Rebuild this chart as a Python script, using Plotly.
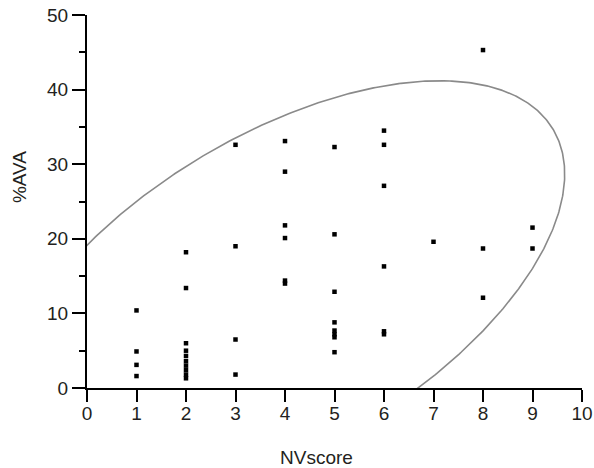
import numpy as np
import plotly.graph_objects as go

# Data
nv_score = [1, 1, 1, 1,
            2, 2, 2, 2, 2, 2, 2, 2, 2, 2,
            3, 3, 3, 3,
            4, 4, 4, 4, 4, 4,
            5, 5, 5, 5, 5, 5, 5, 5,
            6, 6, 6, 6, 6, 6,
            7,
            8, 8, 8,
            9, 9]
ava_pct = [10.4, 4.9, 3.1, 1.6,
           18.2, 13.4, 6.0, 5.0, 4.3, 3.6, 3.0, 2.4, 1.8, 1.3,
           32.6, 19.0, 6.5, 1.8,
           33.1, 29.0, 21.8, 20.1, 14.4, 14.0,
           32.3, 20.6, 12.9, 8.8, 7.7, 7.2, 6.8, 4.8,
           34.5, 32.6, 27.1, 16.3, 7.6, 7.2,
           19.6,
           45.3, 18.7, 12.1,
           21.5, 18.7]

x_ticks = list(range(0, 11))
y_ticks = [0, 10, 20, 30, 40, 50]

# Confidence ellipse parameters (data units)
ell_cx, ell_cy = 3.933, 12.955
ell_a, ell_b = 28.41, 4.718
ell_angle = np.deg2rad(83.38)

t = np.linspace(0, 2 * np.pi, 720)
ex = ell_cx + ell_a * np.cos(t) * np.cos(ell_angle) - ell_b * np.sin(t) * np.sin(ell_angle)
ey = ell_cy + ell_a * np.cos(t) * np.sin(ell_angle) + ell_b * np.sin(t) * np.cos(ell_angle)

font = "Liberation Sans, Arial, sans-serif"
txt = "#231f20"
fs = 19

fig = go.Figure()
fig.add_trace(go.Scatter(x=ex, y=ey, mode="lines",
                         line=dict(color="#8a8a8a", width=1.6),
                         hoverinfo="skip", showlegend=False))
fig.add_trace(go.Scatter(x=nv_score, y=ava_pct, mode="markers",
                         marker=dict(symbol="square", size=4.5, color="black",
                                     line=dict(width=0)),
                         showlegend=False, cliponaxis=False))

fig.update_layout(
    width=594, height=468, autosize=False,
    margin=dict(l=87, r=12, t=15, b=80),
    paper_bgcolor="white", plot_bgcolor="white",
    font=dict(family=font, size=fs, color=txt),
    xaxis=dict(range=[0, 10], tickvals=x_ticks, ticks="outside", ticklen=12,
               tickwidth=2, tickcolor="black", showline=True, linecolor="black",
               linewidth=2, showgrid=False, zeroline=False, automargin=False,
               ticklabelstandoff=-5,
               tickfont=dict(size=fs, color=txt)),
    yaxis=dict(range=[0, 50], tickvals=y_ticks, ticks="outside", ticklen=13,
               tickwidth=2, tickcolor="black", showline=True, linecolor="black",
               linewidth=2, showgrid=False, zeroline=False, automargin=False,
               tickfont=dict(size=fs, color=txt),
               minor=dict(tickvals=[5, 15, 25, 35, 45], ticks="outside",
                          ticklen=6, tickwidth=2, tickcolor="black")),
    annotations=[
        dict(text="NVscore", xref="x", yref="paper", x=4.63, y=-0.185,
             xanchor="center", yanchor="middle", showarrow=False,
             font=dict(size=fs, color=txt)),
        dict(text="%AVA", xref="paper", yref="y", x=-0.135, y=28.3,
             xanchor="center", yanchor="middle", textangle=-90, showarrow=False,
             font=dict(size=fs, color=txt)),
    ],
)

fig.write_html("out.html", config={"displayModeBar": False},
               post_script="document.body.style.margin='0';document.body.style.padding='0';")
